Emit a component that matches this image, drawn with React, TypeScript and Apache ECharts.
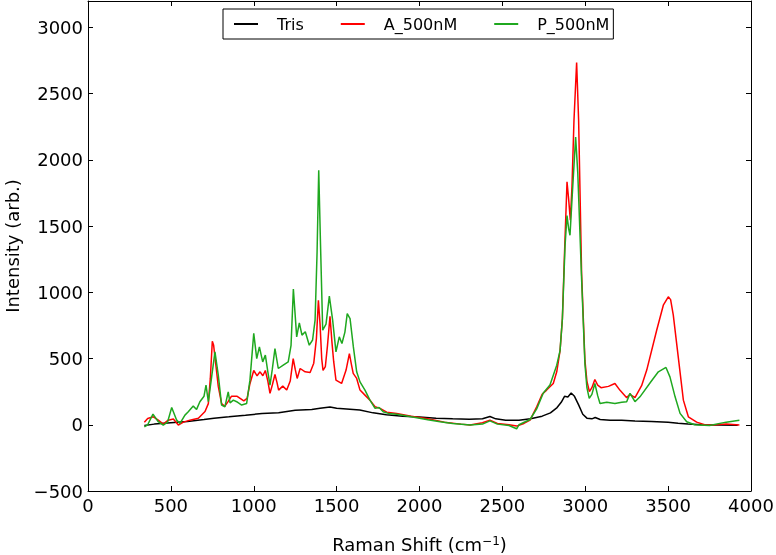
import React, { useEffect, useRef } from "react";
import * as echarts from "echarts";

const seriesNames = ["Tris", "A_500nM", "P_500nM"];
const seriesColors = ["#000000", "#ff0000", "#1fa81f"];

const tris: number[][] = [
  [340, -5], [400, 5], [500, 15], [600, 25], [700, 40], [760, 50], [850, 60], [950, 72], [1050, 85],
  [1150, 90], [1250, 110], [1350, 115], [1400, 125], [1460, 135], [1500, 125], [1560, 120], [1640, 112],
  [1720, 90], [1800, 75], [1900, 65], [2000, 58], [2100, 50], [2200, 45], [2300, 42], [2380, 45],
  [2425, 62], [2460, 45], [2520, 35], [2600, 35], [2670, 45], [2740, 65], [2790, 90], [2830, 130],
  [2855, 170], [2875, 215], [2895, 210], [2915, 240], [2935, 215], [2960, 150], [2985, 80], [3010, 50],
  [3040, 45], [3060, 55], [3090, 40], [3150, 35], [3220, 35], [3300, 28], [3400, 25], [3500, 20],
  [3560, 12], [3620, 5], [3700, 0], [3800, -2], [3920, -3],
];

const a500: number[][] = [
  [340, 20], [360, 48], [394, 60], [424, 35], [454, 5], [484, 35], [515, 43], [545, -2], [575, 20],
  [615, 35], [666, 50], [706, 100], [726, 160], [738, 350], [750, 630], [758, 600], [766, 510], [786, 290],
  [806, 160], [825, 140], [845, 175], [865, 215], [900, 215], [940, 180], [960, 200], [977, 310],
  [1000, 410], [1020, 370], [1038, 400], [1055, 370], [1070, 410], [1085, 330], [1098, 237], [1112, 300],
  [1128, 380], [1140, 320], [1150, 262], [1175, 292], [1199, 262], [1220, 330], [1238, 500], [1250, 420],
  [1262, 350], [1280, 425], [1310, 400], [1340, 395], [1362, 465], [1378, 650], [1390, 940], [1400, 760],
  [1410, 500], [1418, 410], [1432, 440], [1445, 600], [1460, 820], [1472, 620], [1482, 480], [1496, 337],
  [1530, 312], [1557, 413], [1577, 538], [1590, 450], [1600, 388], [1621, 350], [1641, 262], [1671, 224],
  [1701, 186], [1732, 136], [1762, 124], [1802, 95], [1862, 86], [1950, 65], [2050, 45], [2150, 20],
  [2250, 5], [2305, -2], [2380, 15], [2425, 35], [2470, 10], [2540, 0], [2586, -10], [2630, 10],
  [2667, 35], [2707, 136], [2740, 230], [2767, 262], [2807, 312], [2828, 400], [2848, 560], [2862, 800],
  [2875, 1300], [2890, 1835], [2900, 1700], [2910, 1545], [2920, 1800], [2932, 2300], [2948, 2735],
  [2960, 2300], [2978, 1142], [2998, 488], [3010, 330], [3025, 250], [3040, 280], [3058, 342], [3075, 300],
  [3095, 280], [3140, 290], [3179, 312], [3210, 260], [3250, 205], [3270, 230], [3300, 205], [3340, 295],
  [3371, 413], [3431, 714], [3471, 903], [3501, 966], [3515, 945], [3531, 830], [3561, 513], [3592, 186],
  [3622, 60], [3672, 20], [3720, 0], [3771, -2], [3850, 5], [3930, -2],
];

const p500: number[][] = [
  [340, -15], [360, 0], [392, 80], [424, 23], [454, -2], [480, 20], [505, 131], [535, 35], [555, 10],
  [585, 73], [605, 98], [635, 141], [655, 116], [675, 174], [700, 216], [712, 300], [726, 174], [746, 362],
  [766, 551], [786, 375], [806, 149], [826, 136], [846, 249], [857, 166], [877, 186], [897, 174],
  [927, 149], [957, 160], [977, 337], [1000, 690], [1018, 500], [1034, 588], [1054, 475], [1070, 526],
  [1085, 400], [1098, 300], [1112, 420], [1128, 576], [1148, 425], [1178, 450], [1208, 475], [1225, 600],
  [1239, 1025], [1259, 664], [1275, 769], [1291, 677], [1311, 702], [1335, 601], [1355, 640], [1370, 790],
  [1382, 1300], [1392, 1921], [1402, 1400], [1416, 714], [1436, 760], [1456, 971], [1476, 790],
  [1496, 551], [1516, 664], [1532, 614], [1550, 700], [1564, 840], [1581, 802], [1601, 588], [1621, 400],
  [1641, 324], [1671, 262], [1701, 186], [1732, 124], [1756, 131], [1781, 98], [1812, 86], [1862, 80],
  [1950, 60], [2050, 38], [2124, 23], [2200, 10], [2305, -2], [2380, 5], [2425, 30], [2470, 5],
  [2540, -5], [2586, -30], [2600, 0], [2667, 40], [2707, 120], [2747, 240], [2787, 300], [2828, 450],
  [2848, 560], [2862, 800], [2878, 1350], [2890, 1580], [2900, 1480], [2908, 1431], [2920, 1700],
  [2942, 2172], [2955, 1900], [2978, 1100], [2998, 460], [3010, 280], [3024, 200], [3040, 230],
  [3058, 312], [3075, 220], [3089, 161], [3130, 170], [3179, 161], [3220, 170], [3250, 174], [3270, 237],
  [3300, 174], [3330, 211], [3396, 325], [3441, 400], [3487, 433], [3511, 362], [3542, 211], [3572, 86],
  [3612, 23], [3660, 0], [3750, -5], [3850, 20], [3930, 35],
];

const xRange = [0, 4000, 500];
const yRange = [-500, 3200, 500];

const FONT = "DejaVu Sans";

export default function App() {
  const ref = useRef<HTMLDivElement>(null);
  useEffect(() => {
    if (!ref.current) return;
    const chart = echarts.init(ref.current, null, { renderer: "svg" });
    const axisLine = { show: true, onZero: false, lineStyle: { color: "#000", width: 1 } };
    const tick = { show: true, inside: true, length: 5, lineStyle: { color: "#000", width: 1 } };
    const xFmt = (v: number) => String(v);
    const yFmt = (v: number) => (v % 500 !== 0 ? "" : v < 0 ? "\u2212" + Math.abs(v) : String(v));
    const datasets = [tris, a500, p500];
    chart.setOption({
      animation: false,
      textStyle: { fontFamily: FONT },
      grid: { left: 88, right: 25, top: 1, bottom: 64, containLabel: false, outerBoundsMode: "none" },
      legend: {
        left: 223,
        top: 9,
        orient: "horizontal",
        padding: [7, 4, 7, 11],
        itemGap: 37,
        itemWidth: 24,
        itemHeight: 2,
        icon: "rect",
        borderColor: "#000",
        borderWidth: 1,
        borderRadius: 0,
        textStyle: { fontFamily: FONT, fontSize: 16, color: "#000", padding: [0, 0, 0, 14] },
        data: seriesNames,
      },
      xAxis: [
        {
          type: "value",
          position: "bottom",
          min: xRange[0],
          max: xRange[1],
          interval: xRange[2],
          axisLine,
          axisTick: tick,
          splitLine: { show: false },
          axisLabel: { fontFamily: FONT, fontSize: 18, color: "#000", margin: 5, formatter: xFmt },
          name: "Raman Shift (cm{sup|\u22121})",
          nameLocation: "middle",
          nameGap: 44,
          nameTextStyle: {
            fontFamily: FONT,
            fontSize: 18,
            color: "#000",
            rich: { sup: { fontFamily: FONT, fontSize: 12, verticalAlign: "top", lineHeight: 12, color: "#000" } },
          },
        },
        {
          type: "value",
          position: "top",
          min: xRange[0],
          max: xRange[1],
          interval: xRange[2],
          axisLine,
          axisTick: tick,
          splitLine: { show: false },
          axisLabel: { show: false },
        },
      ],
      yAxis: [
        {
          type: "value",
          position: "left",
          min: yRange[0],
          max: yRange[1],
          interval: yRange[2],
          axisLine,
          axisTick: tick,
          splitLine: { show: false },
          axisLabel: { fontFamily: FONT, fontSize: 18, color: "#000", margin: 5, formatter: yFmt },
          name: "Intensity (arb.)",
          nameLocation: "middle",
          nameGap: 67,
          nameRotate: 90,
          nameTextStyle: { fontFamily: FONT, fontSize: 18, color: "#000" },
        },
        {
          type: "value",
          position: "right",
          min: yRange[0],
          max: yRange[1],
          interval: yRange[2],
          axisLine,
          axisTick: tick,
          splitLine: { show: false },
          axisLabel: { show: false },
        },
      ],
      series: seriesNames.map((name, i) => ({
        name,
        type: "line",
        data: datasets[i],
        symbol: "none",
        showSymbol: false,
        smooth: false,
        lineStyle: { color: seriesColors[i], width: 1.5 },
        itemStyle: { color: seriesColors[i] },
        z: 2 + i,
      })),
    });
    return () => chart.dispose();
  }, []);
  return <div ref={ref} style={{ position: "fixed", left: 0, top: 0, width: 776, height: 555 }} />;
}
